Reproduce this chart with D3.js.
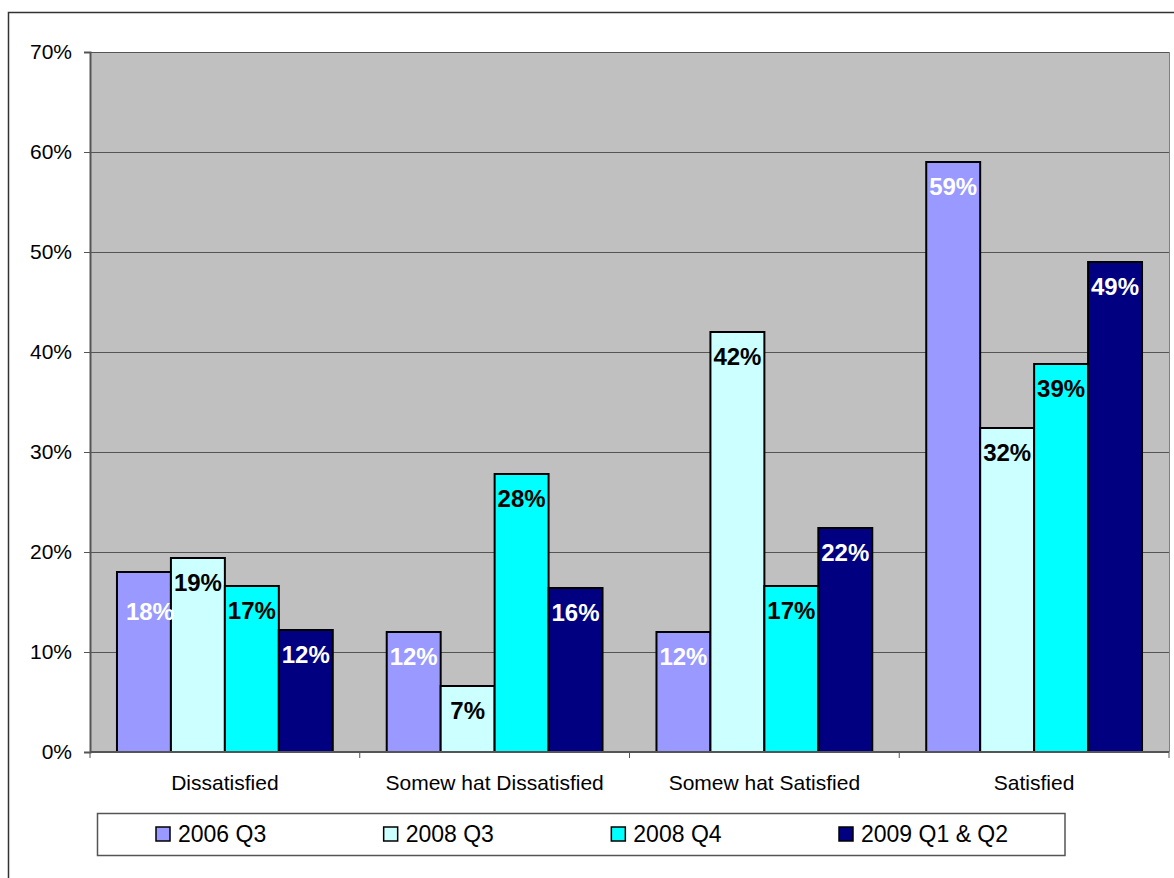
<!DOCTYPE html>
<html>
<head>
<meta charset="utf-8">
<script src="https://cdn.jsdelivr.net/npm/d3@7"></script>
<style>
  html, body { margin: 0; padding: 0; background: #fff; }
  svg { display: block; font-family: "Liberation Sans", Arial, sans-serif; }
</style>
</head>
<body>
<svg id="chart" width="1174" height="878"></svg>
<script>
const categories = ["Dissatisfied", "Somew hat Dissatisfied", "Somew hat Satisfied", "Satisfied"];
const seriesNames = ["2006 Q3", "2008 Q3", "2008 Q4", "2009 Q1 & Q2"];
const s2006Q3 = [18.0, 12.0, 12.0, 59.0];
const s2008Q3 = [19.4, 6.6, 42.0, 32.4];
const s2008Q4 = [16.6, 27.8, 16.6, 38.8];
const s2009Q1Q2 = [12.2, 16.4, 22.4, 49.0];
const yTicks = [0, 10, 20, 30, 40, 50, 60, 70];

const seriesValues = [s2006Q3, s2008Q3, s2008Q4, s2009Q1Q2];
const colors = ["#9999FF", "#CCFFFF", "#00FFFF", "#000080"];
const labelColors = ["#FFFFFF", "#000000", "#000000", "#FFFFFF"];
// manual label nudges (Excel moved one label)
const labelNudge = { "0|0": { dx: 6, dy: 15 } };

const svg = d3.select("#chart");
const margin = { left: 90, right: 1169, top: 52, bottom: 752 };

// outer frame
svg.append("rect").attr("x", 8.5).attr("y", 12.5).attr("width", 1180).attr("height", 880)
  .attr("fill", "none").attr("stroke", "#333").attr("stroke-width", 1.5);

const x0 = d3.scaleBand().domain(categories).range([margin.left, margin.right]).paddingInner(0).paddingOuter(0);
const x1 = d3.scaleBand().domain(seriesNames).range([0, x0.bandwidth()]).paddingInner(0).paddingOuter(0.5);
const y = d3.scaleLinear().domain([0, 70]).range([margin.bottom, margin.top]);

// plot background
svg.append("rect").attr("x", margin.left).attr("y", margin.top)
  .attr("width", margin.right - margin.left).attr("height", margin.bottom - margin.top)
  .attr("fill", "#C0C0C0");

// gridlines
svg.append("g").selectAll("line").data(yTicks.filter(d => d > 0)).join("line")
  .attr("x1", margin.left).attr("x2", margin.right)
  .attr("y1", d => Math.round(y(d)) + 0.5).attr("y2", d => Math.round(y(d)) + 0.5)
  .attr("stroke", "#555").attr("stroke-width", 1);

// right border of plot
svg.append("line").attr("x1", margin.right + 0.5).attr("x2", margin.right + 0.5)
  .attr("y1", margin.top).attr("y2", margin.bottom).attr("stroke", "#808080");

// bars
const data = [];
categories.forEach((c, ci) => {
  seriesNames.forEach((s, si) => {
    data.push({ c, ci, s, si, v: seriesValues[si][ci] });
  });
});

svg.append("g").selectAll("rect").data(data).join("rect")
  .attr("x", d => x0(d.c) + x1(d.s))
  .attr("y", d => y(d.v))
  .attr("width", x1.bandwidth())
  .attr("height", d => y(0) - y(d.v))
  .attr("fill", d => colors[d.si])
  .attr("stroke", "#000").attr("stroke-width", 2);

// value labels
svg.append("g").selectAll("text").data(data).join("text")
  .attr("x", d => x0(d.c) + x1(d.s) + x1.bandwidth() / 2 + ((labelNudge[d.ci + "|" + d.si] || {}).dx || 0))
  .attr("y", d => y(d.v) + 33 + ((labelNudge[d.ci + "|" + d.si] || {}).dy || 0))
  .attr("text-anchor", "middle")
  .attr("font-size", 24).attr("font-weight", "bold")
  .attr("fill", d => labelColors[d.si])
  .text(d => Math.round(d.v) + "%");

// y axis
const yAxis = d3.axisLeft(y).tickValues(yTicks).tickFormat(d => d + "%").tickSize(6).tickPadding(12);
const gy = svg.append("g").attr("transform", `translate(${margin.left},0)`).call(yAxis);
gy.select(".domain").attr("stroke", "#555").attr("stroke-width", 2);
gy.selectAll(".tick line").attr("stroke", "#555");
gy.selectAll(".tick text").attr("font-size", 21).attr("fill", "#000")
  .attr("font-family", "Liberation Sans, Arial, sans-serif");

// x axis
const gx = svg.append("g").attr("transform", `translate(0,${margin.bottom})`);
gx.append("line").attr("x1", margin.left).attr("x2", margin.right).attr("y1", 0).attr("y2", 0)
  .attr("stroke", "#555").attr("stroke-width", 2);
const boundaries = categories.map(c => x0(c)).concat([margin.right]);
gx.selectAll("line.tk").data(boundaries).join("line").attr("class", "tk")
  .attr("x1", d => d).attr("x2", d => d).attr("y1", 0).attr("y2", 6).attr("stroke", "#555");
gx.selectAll("text").data(categories).join("text")
  .attr("x", d => x0(d) + x0.bandwidth() / 2).attr("y", 38)
  .attr("text-anchor", "middle").attr("font-size", 21).attr("fill", "#000")
  .text(d => d);

// legend
const lg = svg.append("g");
lg.append("rect").attr("x", 97.5).attr("y", 813.5).attr("width", 967.5).attr("height", 42)
  .attr("fill", "#fff").attr("stroke", "#555").attr("stroke-width", 1.5);
const legendX = d3.scalePoint().domain(seriesNames).range([156, 839]);
const li = lg.selectAll("g").data(seriesNames).join("g")
  .attr("transform", d => `translate(${legendX(d)},827)`);
li.append("rect").attr("width", 14).attr("height", 14)
  .attr("fill", (d, i) => colors[i]).attr("stroke", "#000").attr("stroke-width", 1.5);
li.append("text").attr("x", 22).attr("y", 14.5).attr("font-size", 23)
  .attr("fill", "#000")
  .text(d => d);
</script>
</body>
</html>
